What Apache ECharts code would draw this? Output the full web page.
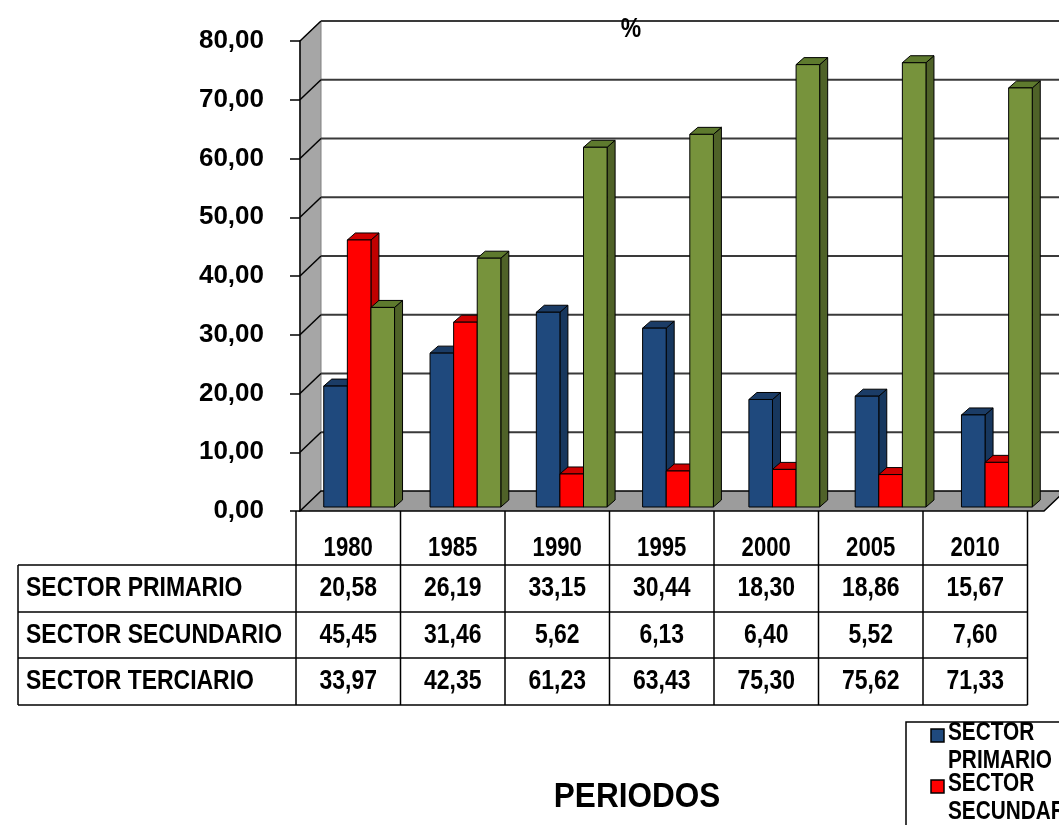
<!DOCTYPE html>
<html><head><meta charset="utf-8">
<script src="https://cdn.jsdelivr.net/npm/echarts@6/dist/echarts.min.js"></script>
<style>html,body{margin:0;padding:0;background:#fff}#c{width:1059px;height:825px}</style>
</head><body><div id="c"></div>
<script>
// ---- data ----
const categories = ['1980', '1985', '1990', '1995', '2000', '2005', '2010'];
const seriesNames = ['SECTOR PRIMARIO', 'SECTOR SECUNDARIO', 'SECTOR TERCIARIO'];
const primario   = [20.58, 26.19, 33.15, 30.44, 18.30, 18.86, 15.67];
const secundario = [45.45, 31.46, 5.62, 6.13, 6.40, 5.52, 7.60];
const terciario  = [33.97, 42.35, 61.23, 63.43, 75.30, 75.62, 71.33];
const yTicks = [0, 10, 20, 30, 40, 50, 60, 70, 80];
const yTitle = '%';
const xTitle = 'PERIODOS';

// ---- style / layout ----
const FONT = "'Liberation Sans',Arial,sans-serif";
const NARROW = 0.82;
const colors = [
  {front: '#1F497D', side: '#17375E', top: '#1B3C66'},
  {front: '#FF0000', side: '#C00000', top: '#D00000'},
  {front: '#77933C', side: '#4F6228', top: '#5E7A2E'}
];
const WALL_DX = 21, WALL_DY = 20;
const BAR_DX = 6, BAR_DY = -4, BAR_DEPTH_X = 8, BAR_DEPTH_Y = 7, BAR_FRAC = 0.222;
const fmt = v => v.toFixed(2).replace('.', ',');
const allSeries = [primario, secundario, terciario];

function renderWalls(params, api) {
  const p0 = api.coord([0, 0]);
  const bw = api.size([1, 0])[0];
  const x0 = p0[0] - bw / 2;
  const x1 = x0 + bw * categories.length;
  const yb = p0[1];
  const yt = api.coord([0, yTicks[yTicks.length - 1]])[1];
  const ch = [
    {type: 'polygon', shape: {points: [[x0, yt], [x0 + WALL_DX, yt - WALL_DY], [x0 + WALL_DX, yb - WALL_DY], [x0, yb]]},
     style: {fill: '#A6A6A6', stroke: '#808080', lineWidth: 1}},
    {type: 'polygon', shape: {points: [[x0, yb], [x0 + WALL_DX, yb - WALL_DY], [x1 + WALL_DX, yb - WALL_DY], [x1, yb]]},
     style: {fill: '#9C9C9C', stroke: '#000', lineWidth: 1.5}}
  ];
  yTicks.forEach(v => {
    if (v === 0) return;
    const y = api.coord([0, v])[1];
    ch.push({type: 'line', shape: {x1: x0, y1: y, x2: x0 + WALL_DX, y2: y - WALL_DY}, style: {stroke: '#000', lineWidth: 1.5}});
    ch.push({type: 'line', shape: {x1: x0 + WALL_DX, y1: y - WALL_DY, x2: 1100, y2: y - WALL_DY}, style: {stroke: '#3A3A3A', lineWidth: 2}});
  });
  return {type: 'group', children: ch};
}

function barRenderer(k) {
  const c = colors[k];
  return function (params, api) {
    const i = api.value(0), v = api.value(1);
    const base = api.coord([i, 0]);
    const top = api.coord([i, v]);
    const bw = api.size([1, 0])[0];
    const w = bw * BAR_FRAC;
    const xl = base[0] + BAR_DX - 1.5 * w + k * w;
    const xr = xl + w;
    const yb = base[1] + BAR_DY;
    const yt = top[1] + BAR_DY;
    const dx = BAR_DEPTH_X, dy = BAR_DEPTH_Y;
    return {type: 'group', children: [
      {type: 'polygon', shape: {points: [[xr, yb], [xr + dx, yb - dy], [xr + dx, yt - dy], [xr, yt]]}, style: {fill: c.side, stroke: '#000', lineWidth: 1}},
      {type: 'polygon', shape: {points: [[xl, yt], [xl + dx, yt - dy], [xr + dx, yt - dy], [xr, yt]]}, style: {fill: c.top, stroke: '#000', lineWidth: 1}},
      {type: 'rect', shape: {x: xl, y: yt, width: w, height: yb - yt}, style: {fill: c.front, stroke: '#000', lineWidth: 1}}
    ]};
  };
}

// ---- table (graphic) ----
const T = {left: 18, labelRight: 296, colW: 104.5, headTop: 511, rows: [565, 612, 658, 705]};
const graphics = [];
const tLine = (x1, y1, x2, y2) => graphics.push({type: 'line', shape: {x1, y1, x2, y2}, style: {stroke: '#000', lineWidth: 1.5}, z: 10});
const tText = (text, x, y, align, size, sx) => graphics.push({type: 'text', x, y, z: 10, scaleX: sx || NARROW,
  style: {text, font: `bold ${size || 28}px ${FONT}`, fill: '#000', textAlign: align || 'center', textVerticalAlign: 'middle'}});
const tableRight = T.labelRight + T.colW * categories.length;
T.rows.forEach(y => tLine(T.left, y, tableRight, y));
tLine(T.left, T.rows[0], T.left, T.rows[3]);
for (let i = 0; i <= categories.length; i++) {
  const x = T.labelRight + i * T.colW;
  tLine(x, T.headTop, x, T.rows[3]);
}
categories.forEach((c, i) => tText(c, T.labelRight + (i + 0.5) * T.colW, 549, 'center', 27));
seriesNames.forEach((n, r) => {
  const yc = (T.rows[r] + T.rows[r + 1]) / 2;
  tText(n, T.left + 8, yc, 'left');
  allSeries[r].forEach((v, i) => tText(fmt(v), T.labelRight + (i + 0.5) * T.colW, yc));
});
// titles
tText(yTitle, 631, 29, 'center', 28);
tText(xTitle, 637, 797, 'center', 35, 0.9);
// legend box
graphics.push({type: 'rect', shape: {x: 906, y: 722, width: 220, height: 200}, style: {fill: '#fff', stroke: '#000', lineWidth: 1.5}, z: 9});
[0, 1].forEach(k => {
  const y0 = 724 + k * 51;
  graphics.push({type: 'rect', shape: {x: 931, y: y0 + 5, width: 13, height: 13}, style: {fill: colors[k].front, stroke: '#000', lineWidth: 1.5}, z: 10});
  graphics.push({type: 'text', x: 948, y: y0 - 5, z: 10, scaleX: 0.8,
    style: {text: seriesNames[k].replace(' ', '\n'), font: `bold 26px ${FONT}`, lineHeight: 28, fill: '#000', textAlign: 'left', textVerticalAlign: 'top'}});
});

const chart = echarts.init(document.getElementById('c'), null, {renderer: 'canvas'});
chart.setOption({
  animation: false,
  backgroundColor: '#fff',
  grid: {left: 300, top: 41, width: 744, height: 470, containLabel: false},
  xAxis: {type: 'category', data: categories, axisLine: {show: false}, axisTick: {show: false}, axisLabel: {show: false}, splitLine: {show: false}},
  yAxis: {type: 'value', min: 0, max: 80, interval: 10,
    axisLine: {show: true, lineStyle: {color: '#000', width: 1.5}},
    axisTick: {show: true, length: 10, lineStyle: {color: '#000', width: 1.5}},
    axisLabel: {formatter: fmt, margin: 36, color: '#000', fontSize: 26, fontWeight: 'bold', fontFamily: FONT},
    splitLine: {show: false}},
  series: [
    {type: 'custom', name: 'walls', z: -1, renderItem: renderWalls, data: [[0, 0]], encode: {x: 0, y: 1}, silent: true},
    ...allSeries.map((arr, k) => ({
      type: 'custom', name: seriesNames[k], z: 2, renderItem: barRenderer(k),
      data: arr.map((v, i) => [i, v]), encode: {x: 0, y: 1}
    }))
  ],
  graphic: graphics
});
</script></body></html>
